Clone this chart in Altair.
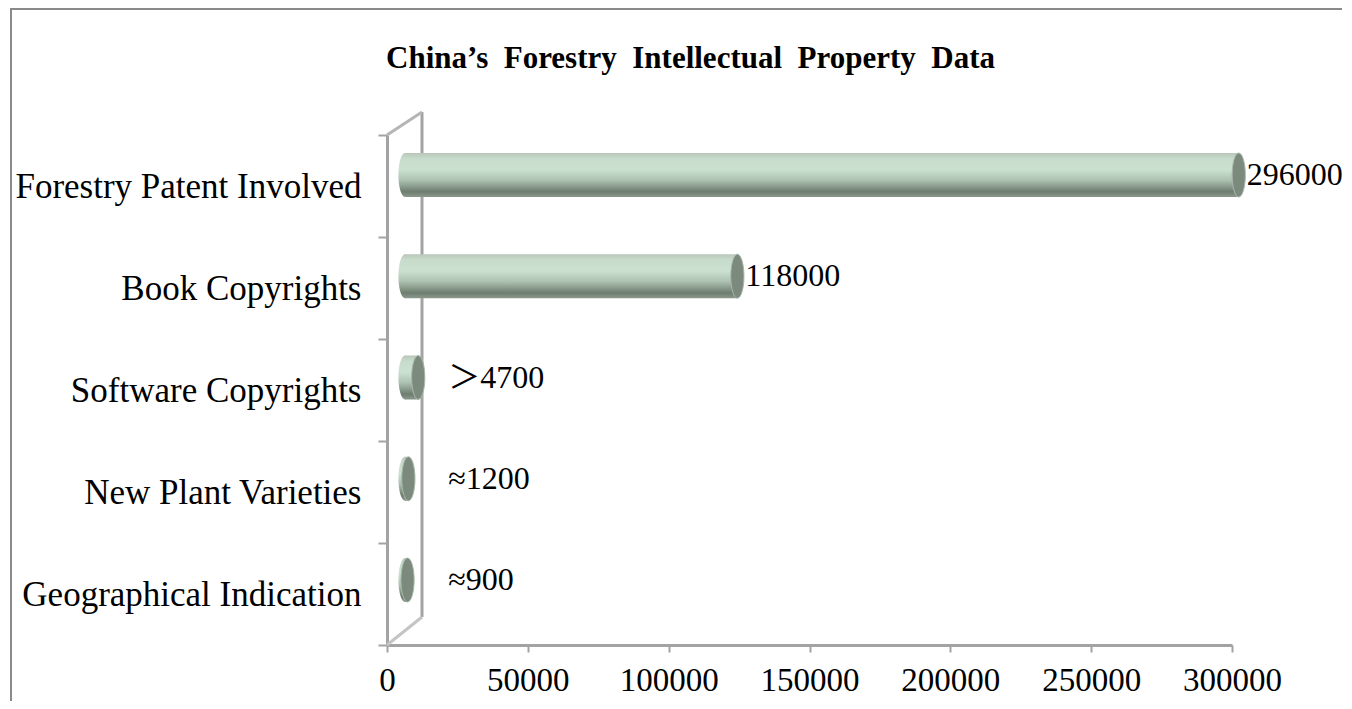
import altair as alt
import pandas as pd

categories = ["Forestry Patent Involved", "Book Copyrights", "Software Copyrights",
              "New Plant Varieties", "Geographical Indication"]
values = [296000, 118000, 4700, 1200, 900]
labels = ["296000", "118000", "\uff1e4700", "\u22481200", "\u2248900"]
x_ticks = [0, 50000, 100000, 150000, 200000, 250000, 300000]

df = pd.DataFrame({"category": categories, "value": values, "label": labels})

FONT = "Liberation Serif, Times New Roman, Noto Sans CJK SC, serif"
AXIS_GRAY = "#a3a3a3"

bar_grad = alt.Gradient(
    gradient="linear", x1=0, x2=0, y1=0, y2=1,
    stops=[
        alt.GradientStop(offset=0.0, color="#b9c6ba"),
        alt.GradientStop(offset=0.12, color="#c7dbca"),
        alt.GradientStop(offset=0.38, color="#cbe1cf"),
        alt.GradientStop(offset=0.62, color="#adc1b0"),
        alt.GradientStop(offset=0.88, color="#6d7d6f"),
        alt.GradientStop(offset=1.0, color="#8c998d"),
    ],
)

ELLIPSE = "M0,-1A0.3,1,0,1,1,0,1A0.3,1,0,1,1,0,-1Z"
CAP_SIZE = 1936

# --- axis layer (invisible marks, visible axes) ---
axis_layer = alt.Chart(df).mark_point(opacity=0).encode(
    x=alt.X("value:Q",
            scale=alt.Scale(domain=[0, 300000], nice=False, zero=True),
            axis=alt.Axis(values=x_ticks, format="d", title=None, grid=False,
                          domainColor=AXIS_GRAY, domainWidth=3,
                          tickColor=AXIS_GRAY, tickWidth=2, tickSize=7,
                          labelFont=FONT, labelFontSize=33, labelColor="black",
                          labelPadding=12, labelFlush=False)),
    y=alt.Y("category:N", sort=categories,
            scale=alt.Scale(paddingInner=0, paddingOuter=0),
            axis=alt.Axis(title=None, grid=False, tickBand="extent",
                          domainColor=AXIS_GRAY, domainWidth=3,
                          tickColor=AXIS_GRAY, tickWidth=2, tickSize=9,
                          labelFont=FONT, labelFontSize=35, labelColor="black",
                          labelPadding=17, labelLimit=500)),
)

# --- bars (3D-ish cylinders) sharing their own shifted scales ---
bx = alt.Scale(domain=[-6391, 293609], nice=False, zero=False)
by = alt.Scale(paddingInner=0.565, paddingOuter=0.301, align=0.295)

left_cap = alt.Chart(df).transform_calculate(zero="0").mark_point(
    shape=ELLIPSE, size=CAP_SIZE, filled=True, fill=bar_grad, strokeWidth=0, opacity=1
).encode(
    x=alt.X("zero:Q", scale=bx, axis=None),
    y=alt.Y("category:N", sort=categories, scale=by, axis=None),
)

bars = alt.Chart(df).mark_bar(fill=bar_grad, strokeWidth=0).encode(
    x=alt.X("value:Q", scale=bx, axis=None),
    y=alt.Y("category:N", sort=categories, scale=by, axis=None),
)

right_cap = alt.Chart(df).mark_point(
    shape=ELLIPSE, size=CAP_SIZE, filled=True, fill="#7b8a7c",
    stroke="#a9b8aa", strokeWidth=1, opacity=1
).encode(
    x=alt.X("value:Q", scale=bx, axis=None),
    y=alt.Y("category:N", sort=categories, scale=by, axis=None),
)

text = alt.Chart(df).transform_calculate(lx="max(datum.value, 12500)").mark_text(
    align="left", baseline="middle", dx=8, font=FONT, fontSize=32, color="black"
).encode(
    x=alt.X("lx:Q", scale=bx, axis=None),
    y=alt.Y("category:N", sort=categories, scale=by, axis=None),
    text="label:N",
)

bar_group = alt.layer(left_cap, bars, right_cap, text)

# --- 3D frame decoration: back wall and floor/ceiling edges ---
one = alt.Data(values=[{"a": 1}])
wall = alt.Chart(one).mark_rule(color=AXIS_GRAY, strokeWidth=3).encode(
    x=alt.value(35), y=alt.value(-23), y2=alt.value(482))
top_edge = alt.Chart(one).mark_rule(color="#b5b5b5", strokeWidth=3).encode(
    x=alt.value(0), x2=alt.value(35), y=alt.value(0), y2=alt.value(-23))
bottom_edge = alt.Chart(one).mark_rule(color="#c4c4c4", strokeWidth=3).encode(
    x=alt.value(0), x2=alt.value(35), y=alt.value(510), y2=alt.value(482))

# outer chart-area border (left and top visible)
frame_left = alt.Chart(one).mark_rule(color="#8a8a8a", strokeWidth=2).encode(
    x=alt.value(-376), y=alt.value(-126), y2=alt.value(620))
frame_top = alt.Chart(one).mark_rule(color="#8a8a8a", strokeWidth=2).encode(
    x=alt.value(-377), x2=alt.value(955), y=alt.value(-126))

chart = alt.layer(
    wall, top_edge, bottom_edge, axis_layer, bar_group, frame_left, frame_top
).resolve_scale(x="independent", y="independent").properties(
    width=845, height=510,
    autosize=alt.AutoSizeParams(type="none"),
    padding={"left": 379, "top": 127, "right": 112, "bottom": 56},
    title=alt.TitleParams(
        text="China\u2019s\u00a0 Forestry\u00a0 Intellectual\u00a0 Property\u00a0 Data",
        font=FONT, fontSize=31, fontWeight="bold", color="black",
        anchor="middle", frame="group", baseline="alphabetic",
        offset=0, dy=91, dx=-119),
).configure_view(strokeWidth=0)

chart.save("out.html", embed_options={"renderer": "svg", "actions": False})
